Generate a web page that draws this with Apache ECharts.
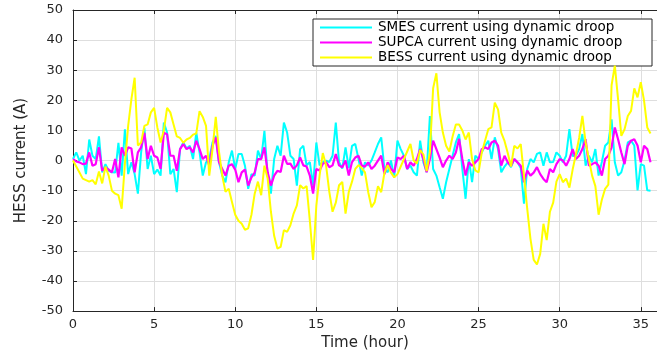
<!DOCTYPE html>
<html>
<head>
<meta charset="utf-8">
<script src="https://cdn.jsdelivr.net/npm/echarts@6/dist/echarts.min.js"></script>
<style>
  html, body { margin: 0; padding: 0; background: #fff; }
  #chart { width: 657px; height: 356px; }
</style>
</head>
<body>
<div id="chart"></div>
<script>
// Sampling step of the recorded currents (hours)
const STEP = 0.2;

// SMES current (A), one value every 0.2 h starting at 0 h
const smes = [
  0.5, 2.7, 0, 1.6, -4.5, 7, 1.6, 0.5, 8, -3.9,
  -1.2, -3.4, -3.9, -4, 5.9, -5, 10.4, -4.5, -0.6, -4.5,
  -11, 2.7, 10.9, -2.8, 1.6, -4.5, -3, -5, 12.6, 9.3,
  -4.5, -2.8, -10.5, 3.8, 6, 4, 4.9, 0.5, 9.3, 2.7,
  -5, -0.6, 0.5, 6, 8.2, -0.6, -5, -7.2, -0.6, 3.3,
  -2.8, 2.2, 2.2, -1.7, -9.4, -4.5, -5, 3.3, 0.5, 9.9,
  -5, -11, 0.5, 4.9, 1.6, 12.6, 9.3, 1.6, 0.5, -8.3,
  3.8, 4.9, -1.6, -0.5, -8.3, 6, -1.6, -0.5, 0, -0.5,
  1.6, 12.6, -0.5, -2.7, 4.4, -2.5, 4.9, 5.5, 0.5, -5,
  -0.6, -1.7, 0, 2.7, 5.5, 7.7, -2.8, -3.9, 0, -5.6,
  6.6, 3.8, 1.6, -2.8, -1.7, -3.9, -5, 6.6, -0.6, -3.9,
  14.8, -2.8, -5, -8.9, -12.7, -7.2, -2.8, 1.6, 6, 8.8,
  -2.8, -12.7, 0.5, -7.2, 1.6, 0.5, 2.7, 4.9, 6.6, 0.5,
  7.7, 3.8, -3.9, -2, -0.6, -2.2, 0.5, -0.6, -2.5, -14.3,
  -2.8, 0.5, -0.6, 2.2, 2.7, -1.7, 2.7, -0.6, -0.5, 2.7,
  1.6, -0.6, 1.6, 10.4, 1.5, 1.6, 3.8, 8.8, -1.7, 1.6,
  -0.6, 3.8, -5, -0.5, 4.9, 6, 13.7, -0.6, -5, -3.9,
  0, 6, 6.6, 5, -9.9, -1.2, -1.7, -9.9, -10
];

// Supercapacitor current (A)
const supca = [
  0.5, -0.3, -0.6, -1.2, -1, 2.7, -1.7, -1.2, 4.4, -3.4,
  -2.3, -3, -3.9, 0.5, -5.6, 4.4, 1.6, 4.4, 4, -3.9,
  2.7, 4.4, 9.2, 0.5, 4.9, 1.6, 1, -2.8, 9.2, 8.7,
  1.6, 1.6, -3.4, 3.8, 5.5, 3.8, 4.4, 2.7, 6.6, 3.8,
  0.5, 1.6, -1.7, 4.9, 7.7, -0.6, -2.8, -5, -1.7, -1.2,
  -3, -7.2, -3.9, -3, -8.3, -5.6, -4, 0.5, 0.5, 4.4,
  -3.9, -8.3, -5, -3.4, -3.8, 1.6, -1.1, -1, -2.8, -1.6,
  1, -1.6, -2, -5, -11, -2.8, -3.3, -1.1, -0.5, -2.2,
  -1.6, 2.2, -1.6, -2.2, 0, -5, -0.5, 1, 1.6, -1.7,
  -2, -0.6, -2.8, -1.7, 0, 1.6, -4.5, -0.6, -2.8, -3.9,
  1, 0.5, 1.6, -2.8, -0.6, -1.7, 0.5, 3.8, 0.5, -3.9,
  0.5, 6.6, 3.8, 1, -2.2, 0, 1.6, 0.5, 2.7, 7.2,
  0.5, -5, -0.6, -1.7, -0.6, 0.5, 3.8, 4.4, 3.8, 6,
  6.6, 5, -1.7, 1.6, -0.6, -1.7, 0.5, -0.6, -1.7, -7.2,
  -3.3, -5, -4, -2.2, -4.5, -6.1, -7.2, -2.8, -3.9, -1.2,
  0.5, 0, -1.7, 0.5, 3.8, 0.5, 1.6, 3.8, 7.1, -1.7,
  -1.2, -0.6, -1.7, -5, 0.5, 1.6, 4.4, 11, 7.1, 2.7,
  -1.2, 4.9, 6.6, 7.1, 5, -0.6, 4.9, 3.8, -0.6
];

// Battery current (A)
const bess = [
  0, -2, -4, -6, -6.5, -7, -6.5, -7.9, -3.6, -7.6,
  -2, -5, -10, -11, -11.5, -16, -1, 11.5, 20.4, 27.5,
  5, 6, 11.5, 12, 16, 17.5, 11, 6, 10, 17.5,
  16, 12, 8, 7.5, 5.9, 7, 7.5, 8.6, 9, 16.4,
  14.5, 11.5, -5, 3.8, 14.5, 3, -5, -10.4, -9.4, -13.8,
  -18, -20, -21, -23, -22.5, -18, -11, -7, -11.5, -1.7,
  -6, -17, -25, -29.2, -28.7, -23.1, -23.7, -21.5, -17.6, -14.9,
  -8.2, -9.3, -8.5, -20, -33, -15, -5, 2.5, -1.6, -10.4,
  -17, -14, -8.2, -7.1, -17.6, -10.4, -7, -2.8, -1.5, -2.5,
  -3.9, -10.5, -15.5, -13.8, -8.5, -10.5, -4, -1.5, -4, -5.6,
  -4.5, -2, 0.5, 3, 5.5, 0, -1, 3.5, 2, -3.5,
  2.7, 24, 29, 16, 9.3, 4.9, 3, 8, 12, 12,
  10, 7, 9.3, 0.5, -3.3, -3.9, 2.7, 6.6, 10.4, 11,
  19.2, 17, 9.3, 6.5, 2.5, -2, 4.9, 4, 5.5, -5,
  -16, -26, -33, -34.5, -31, -21, -26.4, -17, -14, -7,
  -4.5, -7.2, -6, -9, -3, 2, 7.5, 14.8, 6, 0.5,
  -5, -8.5, -18, -13, -9.4, -8, 25, 31.5, 20.4, 8.2,
  10.4, 14.8, 16.5, 24, 21, 26, 20, 11, 9
];

const seriesNames = [
  'SMES current using dynamic droop',
  'SUPCA current using dynamic droop',
  'BESS current using dynamic droop'
];

const xTicks = [0, 5, 10, 15, 20, 25, 30, 35];
const yTicks = [-50, -40, -30, -20, -10, 0, 10, 20, 30, 40, 50];

// Pair each sample with its time stamp
function toPoints(values) {
  return values.map((v, i) => [Math.round(i * STEP * 10) / 10, v]);
}

const AXIS_COLOR = '#262626';
const GRID_COLOR = '#dedede';
const FONT = 'DejaVu Sans';

const chart = echarts.init(document.getElementById('chart'), null, { renderer: 'canvas' });

const xCommon = {
  type: 'value',
  gridIndex: 0,
  min: 0,
  max: 36,
  interval: 5,
  axisLine: { show: true, onZero: false, lineStyle: { color: AXIS_COLOR, width: 1 } },
  axisTick: { show: true, inside: true, length: 4, lineStyle: { color: AXIS_COLOR } }
};

chart.setOption({
  animation: false,
  backgroundColor: '#ffffff',
  grid: { left: 73, top: 10, bottom: 43, right: -9, containLabel: false },
  legend: {
    orient: 'vertical',
    left: 313,
    top: 19,
    backgroundColor: '#ffffff',
    borderColor: AXIS_COLOR,
    borderWidth: 1,
    borderRadius: 0,
    padding: [1, 4, 1, 7],
    itemGap: 0,
    itemWidth: 52,
    itemHeight: 2,
    icon: 'rect',
    data: seriesNames,
    textStyle: { fontFamily: FONT, fontSize: 13.5, color: '#000', width: 270, lineHeight: 15, padding: [0, 0, 0, 1] }
  },
  xAxis: [
    Object.assign({}, xCommon, {
      position: 'bottom',
      name: 'Time (hour)',
      nameLocation: 'middle',
      nameGap: 22,
      nameTextStyle: { fontFamily: FONT, fontSize: 15, color: AXIS_COLOR },
      axisLabel: {
        fontFamily: FONT, fontSize: 13, color: AXIS_COLOR, margin: 7,
        showMaxLabel: false,
        formatter: v => (xTicks.indexOf(v) >= 0 ? String(v) : '')
      },
      splitLine: { show: true, lineStyle: { color: GRID_COLOR, width: 1 } }
    }),
    Object.assign({}, xCommon, {
      position: 'top',
      axisLabel: { show: false },
      splitLine: { show: false }
    })
  ],
  yAxis: [
    {
      type: 'value',
      gridIndex: 0,
      min: -50,
      max: 50,
      interval: 10,
      position: 'left',
      name: 'HESS current (A)',
      nameLocation: 'middle',
      nameGap: 44,
      nameTextStyle: { fontFamily: FONT, fontSize: 15, color: AXIS_COLOR },
      axisLine: { show: true, onZero: false, lineStyle: { color: AXIS_COLOR, width: 1 } },
      axisTick: { show: true, inside: true, length: 4, lineStyle: { color: AXIS_COLOR } },
      axisLabel: {
        fontFamily: FONT, fontSize: 13, color: AXIS_COLOR, margin: 10,
        formatter: v => (yTicks.indexOf(v) >= 0 ? String(v) : '')
      },
      splitLine: { show: true, lineStyle: { color: GRID_COLOR, width: 1 } }
    }
  ],
  series: [
    {
      name: seriesNames[0], type: 'line', data: toPoints(smes),
      xAxisIndex: 0, yAxisIndex: 0,
      showSymbol: false, symbol: 'none', z: 2,
      color: '#00ffff', lineStyle: { color: '#00ffff', width: 2 }
    },
    {
      name: seriesNames[1], type: 'line', data: toPoints(supca),
      xAxisIndex: 0, yAxisIndex: 0,
      showSymbol: false, symbol: 'none', z: 3,
      color: '#ff00ff', lineStyle: { color: '#ff00ff', width: 2.2 }
    },
    {
      name: seriesNames[2], type: 'line', data: toPoints(bess),
      xAxisIndex: 0, yAxisIndex: 0,
      showSymbol: false, symbol: 'none', z: 4,
      color: '#ffff00', lineStyle: { color: '#ffff00', width: 2 }
    }
  ]
});
</script>
</body>
</html>
